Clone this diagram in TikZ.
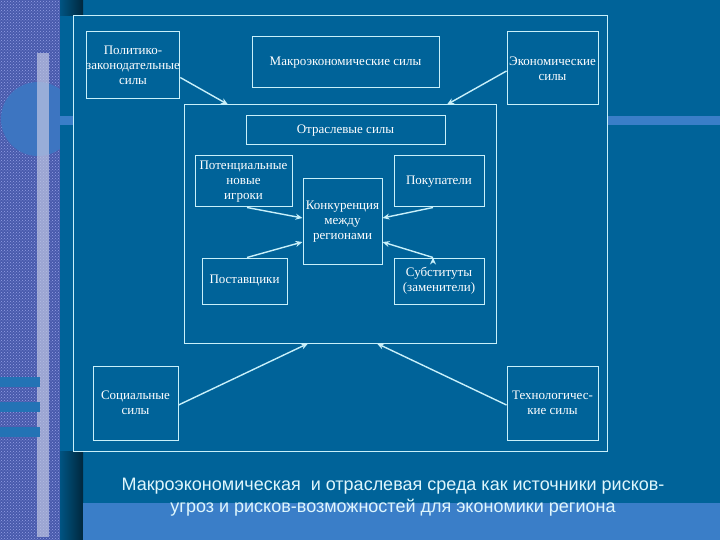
\documentclass[tikz,border=0pt]{standalone}
\usepackage{fontspec}
\setmainfont{Liberation Serif}
\newfontfamily\titlefont{Liberation Sans}
\usetikzlibrary{arrows.meta,patterns}
\definecolor{panel}{RGB}{0,99,153}
\definecolor{band}{RGB}{58,126,200}
\definecolor{strip}{RGB}{72,90,172}
\definecolor{dots}{RGB}{150,160,230}
\definecolor{edge}{RGB}{200,240,250}

\begin{document}
\begin{tikzpicture}[x=1pt,y=-1pt,->,>={Stealth[length=7pt,width=6pt]},
  box/.style={draw=edge,line width=1pt,text=white,align=center,inner sep=0pt,
    font=\fontsize{13}{15}\selectfont},
  link/.style={draw=edge,line width=1.4pt}]

  \useasboundingbox (0,0) rectangle (720,540);

  % slide background
  \fill[panel] (0,0) rectangle (720,540);
  \fill[strip] (0,0) rectangle (60,540);
  \fill[pattern=crosshatch dots,pattern color=dots] (0,0) rectangle (60,540);
  \fill[band!75!strip] (38,119) circle (37);
  \fill[white!65!strip,opacity=.7] (37,53) rectangle (49,537);
  \foreach \y in {377,402,427}
    \fill[band!60!panel] (0,\y) rectangle (40,\y+10);
  \fill[panel] (60,0) rectangle (720,540);
  \shade[left color=panel!85!black,right color=panel!40!black] (60,0) rectangle (83,16);
  \shade[left color=panel!85!black,right color=panel!40!black] (60,451) rectangle (83,540);
  \fill[band] (60,116) rectangle (720,125);
  \fill[band] (83,503) rectangle (720,540);

  % frames
  \node[box,fill=panel,minimum width=534pt,minimum height=435pt] (f) at (340,233.5) {};
  \node[box,minimum width=312pt,minimum height=238pt] (0) at (340,224) {};

  % outer forces
  \node[box,minimum width=92pt,minimum height=67pt] (1) at (133,65.5) {Политико-\\законодательные\\силы};
  \node[box,minimum width=187pt,minimum height=51pt] (2) at (345.5,62.5) {Макроэкономические силы};
  \node[box,minimum width=91pt,minimum height=73pt] (3) at (552.5,68.5) {Экономические\\силы};
  \node[box,minimum width=85pt,minimum height=74pt] (4) at (135.5,403) {Социальные\\силы};
  \node[box,minimum width=91pt,minimum height=74pt] (5) at (552.5,403) {Технологичес-\\кие силы};

  % industry forces
  \node[box,minimum width=199pt,minimum height=29pt] (6) at (345.5,130.5) {Отраслевые силы};
  \node[box,minimum width=97pt,minimum height=51pt] (7) at (243.5,181.5) {Потенциальные\\новые\\игроки};
  \node[box,minimum width=90pt,minimum height=51pt] (8) at (439,181.5) {Покупатели};
  \node[box,minimum width=79pt,minimum height=85pt] (9) at (342.5,221.5) {Конкуренция\\между\\регионами};
  \node[box,minimum width=85pt,minimum height=46pt] (10) at (244.5,281) {Поставщики};
  \node[box,minimum width=90pt,minimum height=46pt] (11) at (439,281) {Субституты\\(заменители)};

  \path[link]
    ([yshift=-12pt]1.east) edge ([xshift=-112pt]0.north)
    ([yshift=-2.5pt]3.west) edge ([xshift=107pt]0.north)
    ([yshift=-2pt]4.east) edge ([xshift=-32pt]0.south)
    ([yshift=-2pt]5.west) edge ([xshift=37pt]0.south)
    ([xshift=3.5pt]7.south) edge ([yshift=3.5pt]9.west)
    ([xshift=2.5pt]10.north) edge ([yshift=-20.5pt]9.west)
    ([xshift=-6pt]8.south) edge ([yshift=3.5pt]9.east)
    ([xshift=-6pt]11.north) edge ([yshift=-20.5pt]9.east);

  \node[align=center,text=edge!60!white,font=\titlefont\fontsize{18}{22}\selectfont] (t) at (393,497)
    {Макроэкономическая\ \ и отраслевая среда как источники рисков-\\угроз и рисков-возможностей для экономики региона};

\end{tikzpicture}
\end{document}
